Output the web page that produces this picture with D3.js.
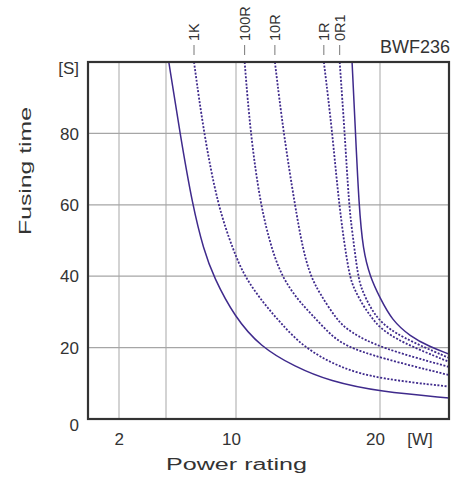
<!DOCTYPE html>
<html lang="en">
<head>
<meta charset="UTF-8">
<title>BWF236 fusing time</title>
<script src="https://d3js.org/d3.v7.min.js"></script>
<style>
  body { margin: 0; background: #fff; }
  svg { font-family: "Liberation Sans", Arial, sans-serif; }
</style>
</head>
<body>
<div id="chart"></div>
<script>
// power rating [W] / fusing time [S]
const curveNames = ["min", "1K", "100R", "10R", "1R", "0R1", "max"];
const powerMin  = [5.2, 6.0, 6.9, 7.7, 8.4, 9.9, 11.7, 14.1, 16.5, 20, 24.8];
const timeMin   = [100, 80, 59.7, 47.3, 39.8, 28.6, 20.2, 14.6, 10.6, 7.6, 5.9];
const power1K   = [7.0, 7.7, 8.7, 9.8, 10.6, 11.9, 13.1, 14.65, 17.2, 20, 24.8];
const time1K    = [100, 80, 59.7, 47.3, 39.8, 32.5, 26.9, 20.2, 14.3, 11.2, 9.1];
const power100R = [10.6, 11.0, 11.7, 12.5, 13.2, 14.3, 15.35, 16.5, 17.6, 20, 24.8];
const time100R  = [100, 80, 59.7, 47.3, 39.8, 33.3, 28.9, 23.8, 20.4, 17.1, 12.3];
const power10R  = [12.7, 13.3, 14.1, 14.65, 15.2, 15.8, 17.0, 17.9, 20, 24.8];
const time10R   = [100, 80, 59.7, 47.3, 39.8, 35.3, 27.7, 24.4, 19.9, 14.6];
const power1R   = [16.1, 16.7, 17.15, 17.85, 18.26, 18.8, 19.44, 20, 21.4, 24.8];
const time1R    = [100, 80, 59.7, 39.8, 36.1, 31.9, 28.3, 25.5, 21.6, 16.0];
const power0R1  = [17.2, 17.55, 17.85, 18.06, 18.47, 18.75, 19.3, 20, 21.4, 24.8];
const time0R1   = [100, 80, 59.7, 52.9, 39.8, 36.1, 31.4, 27.2, 23.0, 17.1];
const powerMax  = [18.06, 18.3, 18.54, 18.82, 19.31, 20, 20.83, 22.08, 23.47, 24.8];
const timeMax   = [100, 80, 59.7, 47.3, 39.8, 33.9, 27.7, 23.2, 20.2, 18.2];
const dashed    = [false, true, true, true, true, true, false];

const xStops = [0, 2, 5, 10, 20, 24.8];   // drawing is not to a single linear scale
const xGrid = [2, 5, 10, 20];
const xTickLabels = [2, 10, 20];
const yGrid = [20, 40, 60, 80];
const yTickLabels = [0, 20, 40, 60, 80];

const powers = [powerMin, power1K, power100R, power10R, power1R, power0R1, powerMax];
const times  = [timeMin, time1K, time100R, time10R, time1R, time0R1, timeMax];
const curves = curveNames.map((name, i) => ({
    name: name,
    dashed: dashed[i],
    pts: powers[i].map((p, j) => [p, times[i][j]])
}));

const width = 454, height = 477,
    mLeft = 88, mRight = 449, mTop = 62, mBottom = 419,
    ink = "#333", lineCol = "#3f2a8c";

const x = d3.scaleLinear().domain(xStops).range([mLeft, 119, 166, 236, 380, mRight]);
const y = d3.scaleLinear().domain([0, 100]).range([mBottom, mTop]);

const svg = d3.select("#chart").append("svg")
    .attr("width", width)
    .attr("height", height);

svg.append("clipPath").attr("id", "plot")
  .append("rect")
    .attr("x", mLeft).attr("y", mTop)
    .attr("width", mRight - mLeft).attr("height", mBottom - mTop);

// grid
svg.append("g").selectAll("line").data(xGrid).enter().append("line")
    .attr("x1", d => x(d)).attr("x2", d => x(d))
    .attr("y1", mTop).attr("y2", mBottom)
    .attr("stroke", "#c4c4c4").attr("stroke-width", 1.5);
svg.append("g").selectAll("line").data(yGrid).enter().append("line")
    .attr("x1", mLeft).attr("x2", mRight)
    .attr("y1", d => y(d)).attr("y2", d => y(d))
    .attr("stroke", "#a6a6a6").attr("stroke-width", 1.2);

// curves
const line = d3.line()
    .x(d => x(d[0]))
    .y(d => y(d[1]))
    .curve(d3.curveBasis);

svg.append("g").attr("clip-path", "url(#plot)")
  .selectAll("path").data(curves).enter().append("path")
    .attr("d", d => line(d.pts))
    .attr("fill", "none")
    .attr("stroke", lineCol)
    .attr("stroke-width", d => d.dashed ? 1.8 : 1.5)
    .attr("stroke-dasharray", d => d.dashed ? "2,1.6" : null);

// frame
svg.append("rect")
    .attr("x", mLeft).attr("y", mTop)
    .attr("width", mRight - mLeft).attr("height", mBottom - mTop)
    .attr("fill", "none").attr("stroke", ink).attr("stroke-width", 2.2);

// y tick labels
svg.append("g").selectAll("text").data(yTickLabels).enter().append("text")
    .attr("x", mLeft - 9)
    .attr("y", d => d === 0 ? y(d) + 6 : y(d))
    .attr("dy", "0.36em")
    .attr("text-anchor", "end")
    .attr("font-size", 17)
    .attr("fill", ink)
    .text(d => d);
svg.append("text")
    .attr("x", mLeft - 9).attr("y", mTop + 6).attr("dy", "0.36em")
    .attr("text-anchor", "end").attr("font-size", 17).attr("fill", ink)
    .text("[S]");

// x tick labels
svg.append("g").selectAll("text").data(xTickLabels).enter().append("text")
    .attr("x", d => x(d) + 5)
    .attr("y", 445)
    .attr("text-anchor", "end")
    .attr("font-size", 17)
    .attr("fill", ink)
    .text(d => d);
svg.append("text")
    .attr("x", 420).attr("y", 445)
    .attr("text-anchor", "middle").attr("font-size", 17).attr("fill", ink)
    .text("[W]");

// axis titles
svg.append("text")
    .attr("x", 166).attr("y", 470)
    .attr("font-size", 16).attr("fill", ink)
    .attr("textLength", 141).attr("lengthAdjust", "spacingAndGlyphs")
    .text("Power rating");
svg.append("text")
    .attr("transform", "translate(31,235) rotate(-90)")
    .attr("font-size", 16).attr("fill", ink)
    .attr("textLength", 128).attr("lengthAdjust", "spacingAndGlyphs")
    .text("Fusing time");

svg.append("text")
    .attr("x", 450).attr("y", 53)
    .attr("text-anchor", "end").attr("font-size", 18).attr("fill", ink)
    .text("BWF236");

// resistance labels above the top of each dotted curve
const labelled = curves.filter(d => d.dashed);
svg.append("g").selectAll("line").data(labelled).enter().append("line")
    .attr("x1", d => x(d.pts[0][0])).attr("x2", d => x(d.pts[0][0]))
    .attr("y1", 45).attr("y2", 55)
    .attr("stroke", "#777").attr("stroke-width", 1);
svg.append("g").selectAll("text").data(labelled).enter().append("text")
    .attr("transform", d => `translate(${x(d.pts[0][0])},41) rotate(-90)`)
    .attr("dy", "0.36em")
    .attr("font-size", 14.5)
    .attr("fill", ink)
    .text(d => d.name);
</script>
</body>
</html>
